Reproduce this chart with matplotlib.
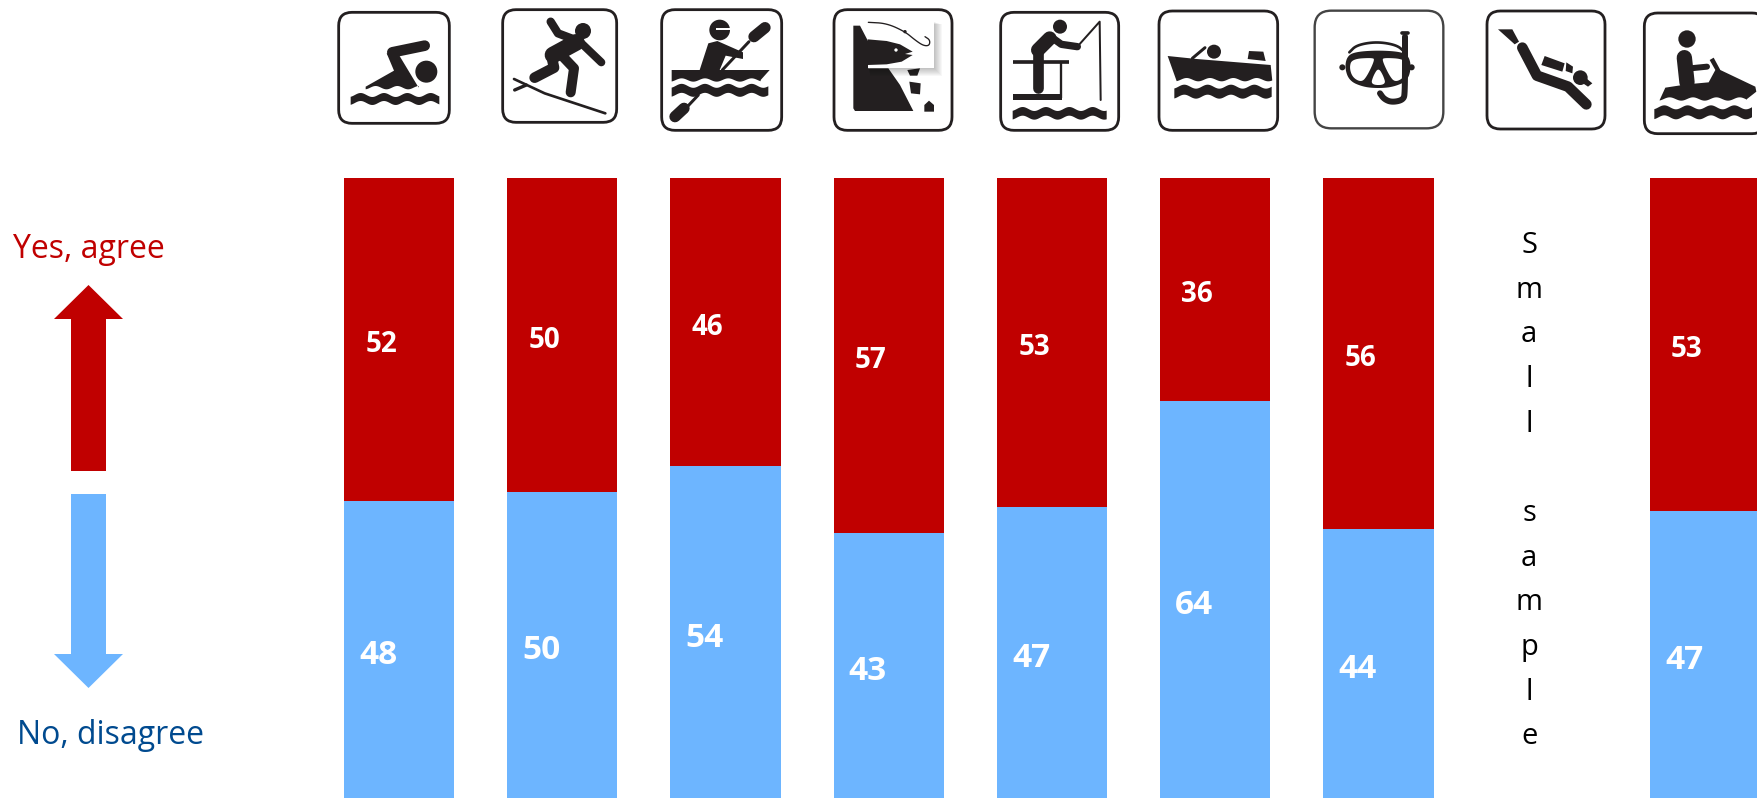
import numpy as np
import matplotlib
matplotlib.use("Agg")
import matplotlib.pyplot as plt
from matplotlib.patches import FancyBboxPatch, Polygon, Ellipse, Rectangle

# ---- data ----
activities = ["Swimming", "Surfing", "Kayaking", "Cliff fishing", "Pier fishing",
              "Boating", "Snorkelling", "Scuba diving", "Jet skiing"]
yes_height = [52.1, 50.6, 46.5, 57.3, 53.0, 36.0, 56.6, None, 53.7]
no_height = [47.9, 49.4, 53.5, 42.7, 47.0, 64.0, 43.4, None, 46.3]
yes_label = [52, 50, 46, 57, 53, 36, 56, None, 53]
no_label = [48, 50, 54, 43, 47, 64, 44, None, 47]
small_sample_text = "S\nm\na\nl\nl\n\ns\na\nm\np\nl\ne"
label_yes = "Yes, agree"
label_no = "No, disagree"

RED = "#C00000"
BLUE = "#6DB5FF"
NAVY = "#004A8F"
INK = "#231F20"
FONT = ["Open Sans", "DejaVu Sans"]

W, H = 1757, 798
fig = plt.figure(figsize=(W / 100, H / 100), dpi=100, facecolor="white")

# ---- bars ----
STEP, X0, TOP = 163.25, 399.0, 178
ax = fig.add_axes([0, 0, 1, (H - TOP) / H])
ax.set_xlim(-X0 / STEP, (W - X0) / STEP)
ax.set_ylim(0, 100)
ax.axis("off")
xs = np.arange(len(activities))
for x, y, n, ly, ln in zip(xs, yes_height, no_height, yes_label, no_label):
    if y is None:
        continue
    ax.bar(x, n, width=0.675, color=BLUE, linewidth=0)
    ax.bar(x, y, bottom=n, width=0.675, color=RED, linewidth=0)
    ax.text(x - 18 / STEP, n + y / 2 - 0.85, str(ly), color="white", fontsize=20,
            fontweight="bold", ha="center", va="center", family=FONT)
    ax.text(x - 21 / STEP, n / 2 - 0.95, str(ln), color="white", fontsize=24,
            fontweight="bold", ha="center", va="center", family=FONT)
ax.text(7 - 12.5 / STEP, 49.5, small_sample_text, ha="center", va="center", fontsize=21,
        linespacing=1.713, color="black", family=FONT)

# ---- overlay in pixel coordinates: pictograms, arrows, side labels ----
ov = fig.add_axes([0, 0, 1, 1], facecolor="none")
ov.set_xlim(0, W)
ov.set_ylim(H, 0)
ov.axis("off")


def chaikin(pts, closed=False, n=3):
    pts = np.asarray(pts, float)
    for _ in range(n):
        a = pts if closed else pts[:-1]
        b = np.roll(pts, -1, axis=0) if closed else pts[1:]
        q = 0.75 * a + 0.25 * b
        r = 0.25 * a + 0.75 * b
        mid = np.empty((2 * len(a), 2))
        mid[0::2], mid[1::2] = q, r
        pts = mid if closed else np.vstack([pts[0], mid, pts[-1]])
    return [tuple(v) for v in pts]


class Icon:
    """Draws in the 3x coordinates of a crop whose corner is at (ox, oy)."""

    def __init__(self, ox, oy):
        self.ox, self.oy = ox, oy

    def p(self, pts):
        return [(self.ox + a / 3, self.oy + b / 3) for a, b in pts]

    def box(self, x0, y0, x1, y1, r=40, lw=2.0, color=INK):
        (a, b), (c, d) = self.p([(x0, y0), (x1, y1)])
        ov.add_patch(FancyBboxPatch((a + r / 3, b + r / 3), c - a - 2 * r / 3, d - b - 2 * r / 3,
                                    boxstyle=f"round,pad={r / 3}", fc="white", ec=color, lw=lw))

    def poly(self, pts, color=INK, smooth=False):
        if smooth:
            pts = chaikin(pts, closed=True)
        ov.add_patch(Polygon(self.p(pts), closed=True, fc=color, ec="none"))

    def line(self, pts, w, color=INK, cap="round", smooth=False):
        if smooth:
            pts = chaikin(pts)
        q = self.p(pts)
        ov.plot([a for a, _ in q], [b for _, b in q], color=color, lw=w / 3 * 0.72,
                solid_capstyle=cap, solid_joinstyle="round")

    def dot(self, x, y, rx, ry=None, color=INK):
        (a, b), = self.p([(x, y)])
        ry = rx if ry is None else ry
        ov.add_patch(Ellipse((a, b), 2 * rx / 3, 2 * ry / 3, fc=color, ec="none"))

    @staticmethod
    def wavy(x0, x1, yc, amp, period, phase=0.0):
        t = np.linspace(x0, x1, 80)
        return list(zip(t, yc - amp * np.cos(2 * np.pi * (t - x0 - phase) / period)))

    def wave(self, x0, x1, yc, t, amp=6, period=70, phase=30):
        top = self.wavy(x0, x1, yc - t / 2, amp, period, phase)
        bot = self.wavy(x0, x1, yc + t / 2, amp, period, phase)
        self.poly(top + bot[::-1])


# swimmer
i = Icon(334, 5)
i.box(14, 22, 346, 355)
i.line([(175, 142), (272, 122)], 32)
i.poly([(95, 245), (180, 197), (158, 145), (192, 145), (254, 248)] +
       Icon.wavy(95, 254, 248, 5, 65, 30)[::-1])
i.dot(277, 200, 33)
i.wave(50, 316, 282, 24)

# surfer
i = Icon(498, 5)
i.box(14, 14, 356, 352)
i.dot(255, 78, 24)
i.line([(158, 50), (180, 85), (225, 102)], 25)
i.line([(165, 150), (235, 112)], 50)
i.line([(240, 105), (310, 172)], 24)
i.line([(160, 150), (168, 188), (110, 218)], 32)
i.line([(190, 150), (228, 190), (218, 262)], 30)
i.line([(48, 222), (140, 265), (322, 325)], 8)
i.line([(50, 255), (85, 240)], 10)

# kayaker
i = Icon(659, 5)
i.box(8, 14, 368, 376)
i.line([(190, 195), (270, 110)], 9)
i.line([(285, 95), (318, 68)], 34)
i.line([(85, 305), (118, 270)], 9)
i.line([(48, 335), (75, 310)], 34)
i.dot(182, 75, 31)
i.line([(172, 72), (214, 72)], 6, color="white", cap="butt")
i.poly([(122, 195), (148, 115), (175, 108), (252, 142), (252, 162), (200, 152), (182, 195)])
i.poly([(38, 195), (332, 195), (305, 225)] + Icon.wavy(38, 305, 225, 5, 70, 30)[::-1])
i.wave(38, 328, 256, 27)

# cliff and fish
i = Icon(830, 5)
i.box(12, 14, 366, 376)
i.poly([(70, 62), (90, 62), (115, 110), (115, 190), (175, 190), (210, 240), (250, 318),
        (75, 318), (70, 310)])
i.poly([(232, 195), (270, 190), (262, 212), (240, 212)])
i.poly([(238, 230), (272, 235), (270, 268), (243, 265)])
i.poly([(283, 320), (283, 300), (297, 287), (312, 300), (312, 320)])
for k in range(8, 0, -1):
    (a, b), (c, d) = i.p([(113 + k, 50 + k), (313 + 3 * k, 188 + 3 * k)])
    ov.add_patch(Rectangle((a, b), c - a, d - b, fc="black", alpha=0.03, ec="none"))
(a, b), (c, d) = i.p([(113, 50), (313, 188)])
ov.add_patch(Rectangle((a, b), c - a, d - b, fc="white", ec="none"))
i.poly([(113, 103), (170, 108), (210, 118), (248, 140), (225, 147), (248, 150), (215, 170),
        (170, 178), (113, 180)])
i.dot(198, 135, 5, color="white")
i.line([(115, 52), (170, 55), (225, 80), (255, 105), (280, 122), (298, 122), (300, 105),
        (285, 95)], 4, smooth=True)
i.dot(225, 80, 5)

# pier fisher
i = Icon(998, 5)
i.box(8, 22, 362, 376)
i.dot(186, 65, 21)
i.line([(120, 135), (155, 100)], 42)
i.line([(165, 100), (190, 118), (238, 125)], 22)
i.line([(120, 130), (120, 248)], 32)
i.line([(44, 170), (212, 170)], 11, cap="butt")
i.line([(188, 170), (188, 280)], 7, cap="butt")
i.poly([(44, 268), (192, 268), (192, 285), (44, 285)])
i.line([(238, 125), (305, 50), (308, 285)], 6)
i.wave(44, 326, 325, 26)

# motor boat
i = Icon(1155, 5)
i.box(12, 18, 368, 376)
i.dot(177, 140, 21)
i.line([(112, 160), (150, 128)], 9)
i.poly([(282, 138), (325, 140), (332, 168), (278, 162)])
i.poly([(38, 153), (125, 162), (347, 180), (352, 228)] + Icon.wavy(65, 352, 224, 5, 70, 30)[::-1])
i.wave(58, 350, 260, 30)

# snorkel mask
i = Icon(1310, 5)
i.box(14, 17, 400, 370, r=50, lw=1.7, color="#444444")
i.line([(285, 95), (285, 262), (280, 285), (245, 292), (222, 282), (210, 265)], 18, smooth=True)
i.line([(277, 84), (293, 84)], 11)
i.line([(118, 142), (140, 120), (200, 110), (260, 120), (283, 140)], 8, smooth=True)
i.dot(97, 187, 9)
i.dot(305, 187, 9)
i.poly([(104, 188), (112, 152), (140, 140), (205, 136), (270, 140), (296, 152), (304, 188),
        (292, 228), (250, 246), (205, 250), (160, 246), (118, 228)], smooth=True)
i.poly([(118, 188), (126, 162), (188, 158), (194, 165), (172, 212), (155, 232), (128, 218)],
       color="white", smooth=True)
i.poly([(410 - a, b) for a, b in [(118, 188), (126, 162), (188, 158), (194, 165), (172, 212),
                                  (155, 232), (128, 218)]], color="white", smooth=True)
i.poly([(205, 188), (220, 212), (228, 240), (182, 240), (190, 212)], color="white", smooth=True)

# scuba diver
i = Icon(1483, 5)
i.box(12, 18, 366, 372)
i.poly([(45, 73), (88, 73), (108, 110), (95, 118)])
i.line([(118, 128), (162, 212), (255, 245), (310, 298)], 32)
i.poly([(185, 153), (245, 175), (238, 200), (175, 180)])
i.poly([(250, 172), (270, 185), (268, 205), (248, 198)])
i.dot(292, 218, 22)
i.poly([(310, 220), (328, 235), (315, 245), (300, 235)])

# jet ski
i = Icon(1637, 5)
i.box(22, 24, 385, 386)
i.dot(150, 102, 26)
i.line([(142, 158), (150, 232)], 46)
i.line([(160, 190), (210, 185)], 18)
i.poly([(68, 285), (85, 248), (150, 238), (215, 232), (235, 195), (218, 165), (230, 158),
        (250, 195), (355, 245), (358, 260), (330, 282)] + Icon.wavy(68, 330, 282, 5, 70, 30)[::-1])
i.wave(52, 345, 322, 30)

# direction arrows
ov.add_patch(Polygon([(88.5, 285), (123, 319), (106, 319), (106, 471), (71, 471), (71, 319), (54, 319)],
                     fc=RED, ec="none"))
ov.add_patch(Polygon([(71, 494), (106, 494), (106, 654), (123, 654), (88.5, 688), (54, 654), (71, 654)],
                     fc=BLUE, ec="none"))
ov.text(88.5, 250, label_yes, color=RED, fontsize=23, ha="center", va="center", family=FONT)
ov.text(110.5, 735, label_no, color=NAVY, fontsize=23, ha="center", va="center", family=FONT)

fig.savefig("out.png", dpi=100, facecolor="white")
